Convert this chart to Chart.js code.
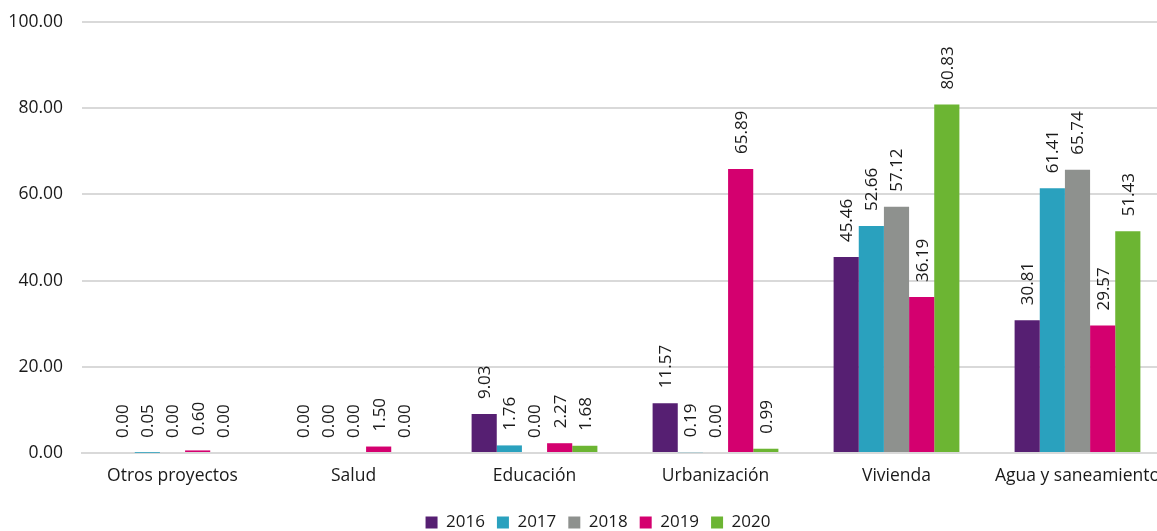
<!DOCTYPE html>
<html>
<head>
<meta charset="utf-8">
<script src="https://cdn.jsdelivr.net/npm/chart.js@4/dist/chart.umd.min.js"></script>
<style>
  html, body { margin: 0; padding: 0; background: #fff; overflow: hidden; }
  #clip { width: 1157px; height: 531px; overflow: hidden; position: relative; }
  #wrap { width: 1196px; height: 531px; position: absolute; left: 0; top: 0; }
</style>
</head>
<body>
<div id="clip"><div id="wrap"><canvas id="c"></canvas></div></div>
<script>
const categories = ["Otros proyectos", "Salud", "Educación", "Urbanización", "Vivienda", "Agua y saneamiento"];
const years = ["2016", "2017", "2018", "2019", "2020"];
const v2016 = [0.00, 0.00, 9.03, 11.57, 45.46, 30.81];
const v2017 = [0.05, 0.00, 1.76, 0.19, 52.66, 61.41];
const v2018 = [0.00, 0.00, 0.00, 0.00, 57.12, 65.74];
const v2019 = [0.60, 1.50, 2.27, 65.89, 36.19, 29.57];
const v2020 = [0.00, 0.00, 1.68, 0.99, 80.83, 51.43];
const yTicks = [0, 20, 40, 60, 80, 100];

const colors = ["#561F72", "#2AA1BE", "#8E918E", "#D4006F", "#6CB533"];
const series = [v2016, v2017, v2018, v2019, v2020];

const FONT = "'Open Sans', 'Noto Sans', sans-serif";

const labelPlugin = {
  id: 'valueLabels',
  afterLayout(chart) {
    if (chart.legend) {
      chart.legend.top += 10; chart.legend.bottom += 10;
      chart.legend.left += 10; chart.legend.right += 10;
    }
  },
  afterDatasetsDraw(chart) {
    const ctx = chart.ctx;
    ctx.save();
    ctx.font = "17px " + FONT;
    ctx.fillStyle = "#1a1a1a";
    ctx.textAlign = "left";
    ctx.textBaseline = "middle";
    chart.data.datasets.forEach((ds, i) => {
      const meta = chart.getDatasetMeta(i);
      meta.data.forEach((el, j) => {
        const val = ds.data[j];
        ctx.save();
        ctx.translate(el.x, el.y - 15);
        ctx.rotate(-Math.PI / 2);
        ctx.fillText(val.toFixed(2), 0, 1);
        ctx.restore();
      });
    });
    ctx.restore();
  }
};

new Chart(document.getElementById('c'), {
  type: 'bar',
  data: {
    labels: categories,
    datasets: years.map((y, i) => ({
      label: y,
      data: series[i],
      backgroundColor: colors[i],
      borderWidth: 0,
      barPercentage: 1.0,
      categoryPercentage: 0.695
    }))
  },
  options: {
    responsive: true,
    maintainAspectRatio: false,
    animation: false,
    layout: { padding: { left: 8, right: 28, top: 22, bottom: 0 } },
    scales: {
      x: {
        grid: { display: false },
        border: { display: true, color: "#d9d9d9", width: 2 },
        ticks: { color: "#1a1a1a", font: { family: FONT, size: 17.5 }, padding: 5, maxRotation: 0, autoSkip: false }
      },
      y: {
        min: 0, max: 100,
        afterBuildTicks(scale) { scale.ticks = yTicks.map(v => ({ value: v })); },
        afterFit(scale) { scale.width = 74; scale.paddingTop = 0; scale.paddingBottom = 0; },
        grid: { color: "#d9d9d9", lineWidth: 2, drawTicks: false },
        border: { display: false },
        ticks: {
          color: "#1a1a1a", font: { family: FONT, size: 17.5 }, padding: 19,
          callback: v => Number(v).toFixed(2)
        }
      }
    },
    plugins: {
      legend: {
        position: 'bottom',
        labels: {
          boxWidth: 12, boxHeight: 12, padding: 12,
          color: "#1a1a1a", font: { family: FONT, size: 17 }
        }
      },
      tooltip: { enabled: false }
    }
  },
  plugins: [labelPlugin]
});
</script>
</body>
</html>
